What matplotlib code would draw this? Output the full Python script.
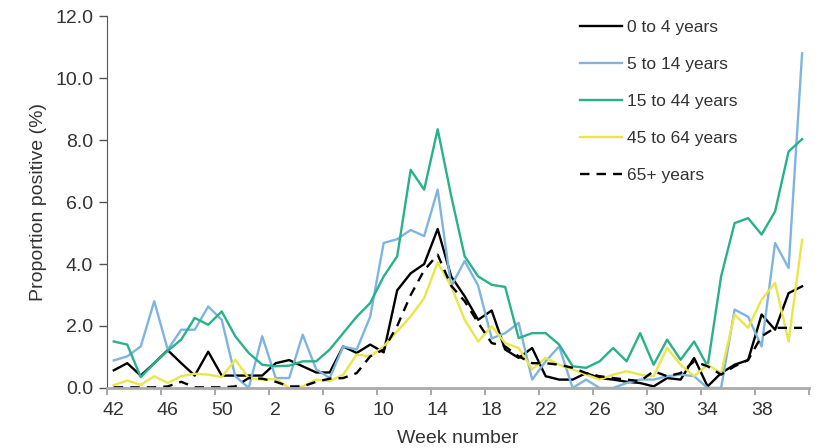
import numpy as np
import matplotlib.pyplot as plt

# Weeks 42-52 then 1-41
weeks = list(range(42, 53)) + list(range(1, 42))

age_0_4 = [0.57, 0.8, 0.4, 0.8, 1.22, 0.8, 0.4, 1.17, 0.4, 0.4, 0.4, 0.4, 0.8, 0.9, 0.7, 0.5,
           0.5, 1.34, 1.13, 1.4, 1.15, 3.15, 3.7, 4.0, 5.13, 3.6, 2.96, 2.2, 2.5, 1.24,
           0.97, 1.29, 0.38, 0.27, 0.27, 0.48, 0.32, 0.27, 0.2, 0.16, 0.05, 0.32, 0.27, 0.97,
           0.05, 0.48, 0.75, 0.9, 2.37, 1.88, 3.06, 3.28]
age_5_14 = [0.89, 1.02, 1.34, 2.8, 1.24, 1.88, 1.88, 2.63, 2.2, 0.38, 0.0, 1.67, 0.32, 0.32,
            1.72, 0.6, 0.32, 1.34, 1.24, 2.3, 4.68, 4.8, 5.1, 4.9, 6.4, 3.28, 4.1, 3.3, 1.6,
            1.77, 2.1, 0.27, 0.86, 1.34, 0.0, 0.27, 0.0, 0.0, 0.16, 0.27, 0.27, 0.38, 0.43,
            0.38, 0.0, 0.0, 2.53, 2.3, 1.34, 4.68, 3.87, 10.8]
age_15_44 = [1.5, 1.4, 0.35, 0.8, 1.2, 1.56, 2.26, 2.04, 2.47, 1.67, 1.13, 0.75, 0.7, 0.72,
             0.86, 0.86, 1.24, 1.77, 2.3, 2.74, 3.6, 4.25, 7.04, 6.4, 8.35, 6.2, 4.25, 3.6,
             3.33, 3.26, 1.61, 1.77, 1.77, 1.4, 0.7, 0.65, 0.86, 1.29, 0.86, 1.77, 0.75,
             1.56, 0.91, 1.5, 0.7, 3.6, 5.32, 5.48, 4.95, 5.7, 7.63, 8.03]
age_45_64 = [0.09, 0.24, 0.1, 0.38, 0.16, 0.38, 0.46, 0.43, 0.35, 0.91, 0.32, 0.27, 0.29,
             0.0, 0.05, 0.27, 0.22, 0.43, 1.08, 1.02, 1.34, 1.83, 2.31, 2.9, 4.05, 3.28,
             2.2, 1.5, 1.99, 1.45, 1.29, 0.6, 0.97, 0.75, 0.6, 0.43, 0.27, 0.43, 0.54, 0.43,
             0.38, 1.29, 0.75, 0.38, 0.75, 0.48, 2.37, 1.94, 2.85, 3.39, 1.5, 4.78]
age_65 = [0.02, 0.02, 0.02, 0.02, 0.05, 0.2, 0.02, 0.02, 0.02, 0.05, 0.32, 0.3, 0.2, 0.05,
          0.05, 0.2, 0.3, 0.32, 0.48, 1.02, 1.24, 2.0, 3.0, 3.8, 4.3, 3.3, 2.8, 2.1, 1.45,
          1.34, 1.02, 0.8, 0.8, 0.75, 0.65, 0.48, 0.38, 0.32, 0.27, 0.22, 0.54, 0.38, 0.48,
          0.86, 0.7, 0.43, 0.7, 0.9, 1.67, 1.94, 1.94, 1.94]

series = [
    ("0 to 4 years", age_0_4, "#000000", "-"),
    ("5 to 14 years", age_5_14, "#7FB4E2", "-"),
    ("15 to 44 years", age_15_44, "#28B18B", "-"),
    ("45 to 64 years", age_45_64, "#EAE64A", "-"),
    ("65+ years", age_65, "#000000", (0, (4, 3))),
]

plt.rcParams['font.family'] = ['Liberation Sans', 'DejaVu Sans']

fig = plt.figure(figsize=(8.18, 4.48), dpi=100)
ax = fig.add_axes([0.1308, 0.134, 0.858, 0.830])

x = np.arange(len(weeks))
for label, vals, color, ls in series:
    ax.plot(x, vals, color=color, linestyle=ls, linewidth=1.7, label=label)

ax.set_xlim(-0.5, len(weeks) - 0.5)
ax.set_ylim(0, 12)
ax.set_yticks(np.arange(0, 12.1, 2))
ax.set_yticklabels([f"{v:.1f}" for v in np.arange(0, 12.1, 2)])

ax.set_xticks(x[::4])
ax.set_xticklabels([str(w) for w in weeks[::4]])
ax.set_xticks(np.arange(-0.5, len(weeks), 4), minor=True)
ax.tick_params(axis='x', which='major', length=0, pad=10, labelsize=14, colors='#333333')
ax.tick_params(axis='x', which='minor', length=5, width=1.2, color='#999999')
ax.tick_params(axis='y', length=6, width=1, color='#555555', labelsize=14,
               labelcolor='#333333', pad=4)

for side in ['top', 'right']:
    ax.spines[side].set_visible(False)
ax.spines['left'].set_color('#555555')
ax.spines['bottom'].set_color('#aaaaaa')
ax.spines['bottom'].set_linewidth(2)

ax.set_xlabel("Week number", fontsize=14, color='#333333', labelpad=8)
ax.set_ylabel("Proportion positive (%)", fontsize=14, color='#333333', labelpad=6)

leg = ax.legend(loc='upper left', bbox_to_anchor=(0.652, 1.031), frameon=False,
                fontsize=12.5, handlelength=2.4, handletextpad=0.3, labelspacing=1.26)
for t in leg.get_texts():
    t.set_color('#333333')

fig.savefig("out.png", dpi=100)
